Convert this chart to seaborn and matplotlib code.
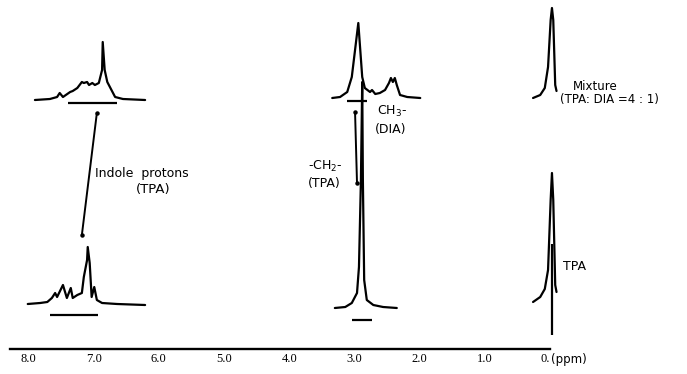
import matplotlib
matplotlib.use("Agg")
import matplotlib.pyplot as plt
import seaborn as sns
import pandas as pd

# ---------------- data (chemical shift in ppm, relative intensity) ----------------
# lower traces: TPA ; upper traces: Mixture (TPA:DIA = 4:1)
indole_tpa_ppm = [8.01, 7.82, 7.71, 7.64, 7.59, 7.56, 7.47, 7.41, 7.35, 7.32, 7.25, 7.18,
                  7.15, 7.10, 7.09, 7.06, 7.03, 6.99, 6.95, 6.87, 6.64, 6.21]
indole_tpa_int = [0, 1, 2, 6, 11, 7, 19, 6, 16, 6, 9, 11, 27, 44, 57, 41, 7, 17, 4, 1, 0, -1]

indole_mix_ppm = [7.90, 7.67, 7.56, 7.52, 7.47, 7.36, 7.32, 7.25, 7.18, 7.15, 7.10, 7.07,
                  7.02, 6.98, 6.92, 6.87, 6.86, 6.83, 6.79, 6.71, 6.67, 6.55, 6.21]
indole_mix_int = [0, 1, 3, 7, 3, 8, 9, 12, 18, 17, 18, 15, 17, 15, 17, 30, 58, 30, 18, 8, 3, 1, 0]

ch2_tpa_ppm = [3.30, 3.14, 3.04, 2.96, 2.93, 2.90, 2.88, 2.87, 2.85, 2.81, 2.71, 2.56, 2.35]
ch2_tpa_int = [-4, -3, 1, 11, 37, 124, 222, 124, 24, 4, -1, -3, -4]

ch_mix_ppm = [3.34, 3.22, 3.11, 3.04, 2.99, 2.94, 2.91, 2.88, 2.84, 2.76, 2.73, 2.68, 2.61,
              2.53, 2.47, 2.44, 2.41, 2.38, 2.35, 2.30, 2.19, 1.99]
ch_mix_int = [2, 3, 8, 23, 50, 77, 50, 23, 12, 8, 10, 6, 7, 10, 17, 22, 18, 22, 15, 5, 3, 2]

ref_ppm = [0.26, 0.15, 0.08, 0.03, -0.01, -0.03, -0.05, -0.08, -0.10]
ref_tpa_int = [2, 7, 15, 34, 104, 131, 104, 19, 12]
ref_mix_int = [2, 5, 12, 33, 80, 92, 80, 15, 9]

offset_tpa = 45
offset_mix = 249

tick_values = [8, 7, 6, 5, 4, 3, 2, 1, 0]
tick_labels = ["8.0", "7.0", "6.0", "5.0", "4.0", "3.0", "2.0", "1.0", "0."]

# integration brackets: (ppm_left, ppm_right, level)
brackets = [(7.67, 6.93, 34), (7.39, 6.64, 246), (3.11, 2.81, 248), (3.04, 2.73, 29)]

# ---------------- build frame ----------------
rows = []
def add(name, xs, ys, off):
    for i, (x, y) in enumerate(zip(xs, ys)):
        rows.append(dict(trace=name, ppm=x, inten=y + off, order=i))

add("indole_tpa", indole_tpa_ppm, indole_tpa_int, offset_tpa)
add("indole_mix", indole_mix_ppm, indole_mix_int, offset_mix)
add("ch2_tpa", ch2_tpa_ppm, ch2_tpa_int, offset_tpa)
add("ch_mix", ch_mix_ppm, ch_mix_int, offset_mix)
add("ref_tpa", ref_ppm, ref_tpa_int, offset_tpa)
add("ref_mix", ref_ppm, ref_mix_int, offset_mix)
df = pd.DataFrame(rows)

sns.set_style("white")
plt.rcParams["font.family"] = ["DejaVu Sans"]
plt.rcParams["text.color"] = "black"
plt.rcParams["xtick.color"] = "black"

fig = plt.figure(figsize=(6.87, 3.74), dpi=100)
ax = fig.add_axes([0, 25 / 374, 1, 349 / 374])

lw = 1.6
for name, sub in df.groupby("trace", sort=False):
    sns.lineplot(data=sub, x="ppm", y="inten", sort=False, ax=ax, color="black",
                 linewidth=lw, estimator=None)

# reference (TMS) line down toward the axis
ax.vlines(-0.03, 14, offset_tpa + 60, color="black", linewidth=lw)

for x0, x1, lvl in brackets:
    ax.hlines(lvl, x1, x0, color="black", linewidth=lw)

# connector lines
ax.plot([6.95, 7.18], [236, 114], color="black", linewidth=1.4, marker="o", markersize=2.2)
ax.plot([2.99, 2.96], [237, 166], color="black", linewidth=1.4, marker="o", markersize=2.2)

ax.set_xlim(550 / 65.2, (550 - 687) / 65.2)
ax.set_ylim(0, 349)

fs = 9
ax.text(6.98, 175, "Indole  protons", fontsize=fs, ha="left", va="center")
ax.text(6.09, 160, "(TPA)", fontsize=fs + 0.5, ha="center", va="center")
ax.text(2.65, 238, "CH$_3$-", fontsize=fs, ha="left", va="center")
ax.text(2.68, 220, "(DIA)", fontsize=fs, ha="left", va="center")
ax.text(3.71, 183, "-CH$_2$-", fontsize=fs, ha="left", va="center")
ax.text(3.71, 165, "(TPA)", fontsize=fs, ha="left", va="center")
ax.text(-0.35, 263, "Mixture", fontsize=fs - 0.5, ha="left", va="center")
ax.text(-0.15, 250, "(TPA: DIA =4 : 1)", fontsize=fs - 0.5, ha="left", va="center")
ax.text(-0.20, 83, "TPA", fontsize=fs, ha="left", va="center")

for s in ["top", "left", "right"]:
    ax.spines[s].set_visible(False)
ax.spines["bottom"].set_bounds(0, 8.28)
ax.spines["bottom"].set_linewidth(1.7)
ax.spines["bottom"].set_color("black")
ax.set_xticks(tick_values)
ax.set_xticklabels(tick_labels, fontsize=9, family="Liberation Serif")
ax.get_xticklabels()[-1].set_ha("right")
ax.tick_params(axis="x", direction="in", length=3, width=1.5, pad=3)
ax.set_yticks([])
ax.set_xlabel("")
ax.set_ylabel("")
ax.text(-0.01, -10, "(ppm)", fontsize=8.5, ha="left", va="center", clip_on=False)

fig.savefig("out.png", dpi=100)
